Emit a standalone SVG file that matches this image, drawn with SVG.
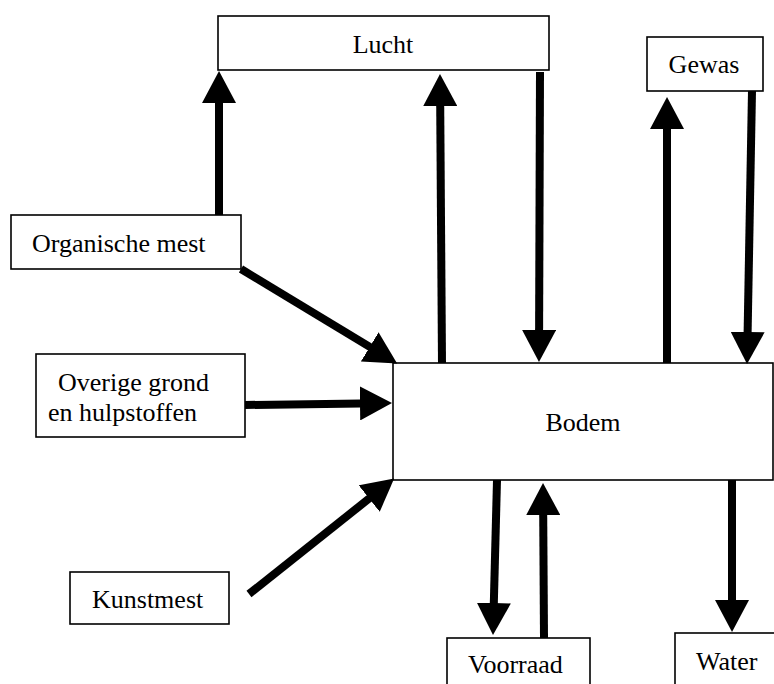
<svg xmlns="http://www.w3.org/2000/svg" width="774" height="684" viewBox="0 0 774 684">
  <style>
    .box { fill: #ffffff; stroke: #000000; stroke-width: 1.6; }
    .lbl { font-family: "Liberation Serif", "Times New Roman", serif; font-size: 26px; fill: #000000; }
    .mid { text-anchor: middle; }
    .flow { stroke: #000000; stroke-width: 8; fill: none; marker-end: url(#head); }
  </style>
  <defs>
    <marker id="head" viewBox="0 0 32 34" markerWidth="32" markerHeight="34" refX="1" refY="17" markerUnits="userSpaceOnUse" orient="auto">
      <path d="M0,0 L32,17 L0,34 Z" fill="#000000"/>
    </marker>
  </defs>

  <g id="lucht">
    <rect class="box" x="218" y="16" width="331" height="54"/>
    <text class="lbl mid" x="383" y="53">Lucht</text>
  </g>
  <g id="gewas">
    <rect class="box" x="647" y="37" width="116" height="54"/>
    <text class="lbl mid" x="704" y="73">Gewas</text>
  </g>
  <g id="organische-mest">
    <rect class="box" x="11" y="215" width="230" height="54"/>
    <text class="lbl" x="32" y="252">Organische mest</text>
  </g>
  <g id="overige-grond">
    <rect class="box" x="36" y="354" width="209" height="83"/>
    <text class="lbl" x="58" y="391">Overige grond</text>
    <text class="lbl" x="48" y="421">en hulpstoffen</text>
  </g>
  <g id="bodem">
    <rect class="box" x="393" y="363" width="380" height="117"/>
    <text class="lbl mid" x="583" y="431">Bodem</text>
  </g>
  <g id="kunstmest">
    <rect class="box" x="70" y="572" width="159" height="52"/>
    <text class="lbl" x="92" y="608">Kunstmest</text>
  </g>
  <g id="voorraad">
    <rect class="box" x="447" y="638" width="143" height="60"/>
    <text class="lbl" x="468" y="673">Voorraad</text>
  </g>
  <g id="water">
    <rect class="box" x="675" y="633" width="110" height="60"/>
    <text class="lbl" x="696" y="670">Water</text>
  </g>

  <g id="connectors">
    <line class="flow" x1="219" y1="215" x2="219" y2="102"/>
    <line class="flow" x1="442" y1="363" x2="440.2" y2="105"/>
    <line class="flow" x1="540" y1="72" x2="539.1" y2="331"/>
    <line class="flow" x1="667" y1="363" x2="667" y2="128"/>
    <line class="flow" x1="752" y1="91" x2="747.6" y2="333"/>
    <line class="flow" x1="241" y1="269" x2="370.6" y2="347.4"/>
    <line class="flow" x1="245" y1="405" x2="361" y2="403.4"/>
    <line class="flow" x1="249" y1="594" x2="369.9" y2="497.9"/>
    <line class="flow" x1="497" y1="480" x2="493.8" y2="604"/>
    <line class="flow" x1="544" y1="638" x2="543.2" y2="514"/>
    <line class="flow" x1="732" y1="480" x2="732" y2="601"/>
  </g>
</svg>
